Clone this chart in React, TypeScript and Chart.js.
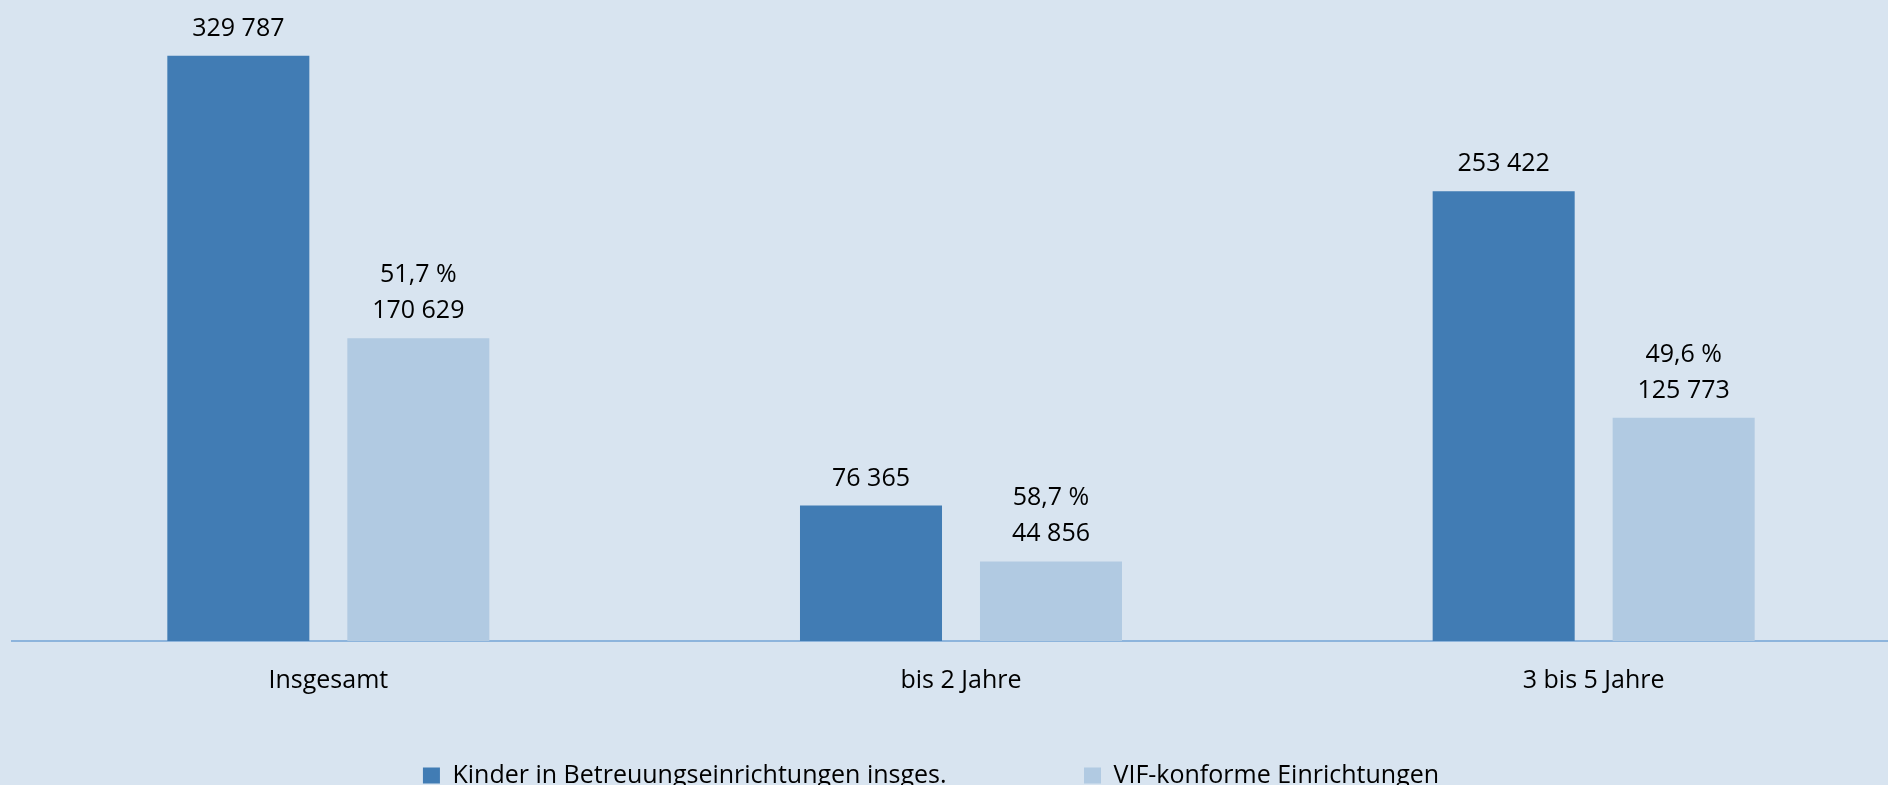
import React, { useEffect, useRef } from "react";
import { Chart, registerables } from "chart.js";

Chart.register(...registerables);

const categories = ["Insgesamt", "bis 2 Jahre", "3 bis 5 Jahre"];
const totalChildren = [329787, 76365, 253422];
const vifChildren = [170629, 44856, 125773];
const vifShare = ["51,7 %", "58,7 %", "49,6 %"];
const seriesNames = ["Kinder in Betreuungseinrichtungen insges.", "VIF-konforme Einrichtungen"];
const yMax = 350000;

const BG = "rgb(216,228,240)";
const DARK = "rgb(65,124,180)";
const LIGHT = "rgb(177,202,226)";
const AXIS = "rgb(141,180,220)";
const FONT = "'Open Sans', sans-serif";
const FS = 25;

function fmt(n: number): string {
  return String(n).replace(/\B(?=(\d{3})+(?!\d))/g, " ");
}

const valueLabels = {
  id: "valueLabels",
  afterDatasetsDraw(chart: any) {
    const ctx = chart.ctx;
    ctx.save();
    ctx.font = `${FS}px ${FONT}`;
    ctx.fillStyle = "#000";
    ctx.textAlign = "center";
    ctx.textBaseline = "alphabetic";
    chart.data.datasets.forEach((ds: any, di: number) => {
      const meta = chart.getDatasetMeta(di);
      meta.data.forEach((bar: any, i: number) => {
        const v = ds.data[i];
        ctx.fillText(fmt(v), bar.x, bar.y - 20);
        if (di === 1) {
          ctx.fillText(vifShare[i], bar.x, bar.y - 56);
        }
      });
    });
    ctx.restore();
  },
};

export default function App() {
  const ref = useRef<HTMLCanvasElement | null>(null);
  useEffect(() => {
    document.body.style.margin = "0";
    document.body.style.overflow = "hidden";
    document.body.style.background = BG;
    const canvas = ref.current!;
    const chart = new Chart(canvas, {
      type: "bar",
      data: {
        labels: categories,
        datasets: [
          {
            label: seriesNames[0],
            data: totalChildren,
            backgroundColor: DARK,
            borderWidth: 0,
            categoryPercentage: 0.569,
            barPercentage: 0.789,
          },
          {
            label: seriesNames[1],
            data: vifChildren,
            backgroundColor: LIGHT,
            borderWidth: 0,
            categoryPercentage: 0.569,
            barPercentage: 0.789,
          },
        ],
      },
      options: {
        responsive: false,
        animation: false,
        layout: { padding: { top: 20, left: 0, right: 0, bottom: 0 } },
        plugins: {
          tooltip: { enabled: false },
          legend: {
            position: "bottom",
            align: "center",
            labels: {
              boxWidth: 17,
              boxHeight: 16,
              padding: 40,
              color: "#000",
              font: { family: FONT, size: FS },
              generateLabels(c: any) {
                const items = Chart.defaults.plugins.legend.labels.generateLabels(c);
                return items.map((it: any, i: number) =>
                  i === 0 ? { ...it, text: it.text + " ".repeat(15), lineWidth: 0 } : { ...it, lineWidth: 0 }
                );
              },
            },
          },
        },
        scales: {
          x: {
            type: "category",
            grid: { display: false, drawTicks: false },
            border: { display: true, color: AXIS, width: 2 },
            ticks: {
              color: "#000",
              font: { family: FONT, size: FS },
              padding: 25,
              maxRotation: 0,
              autoSkip: false,
            },
            afterFit(s: any) {
              s.height = 82;
            },
          },
          y: {
            type: "linear",
            min: 0,
            max: yMax,
            display: true,
            ticks: { display: false },
            grid: { display: false, drawTicks: false },
            border: { display: false },
            afterFit(s: any) {
              s.width = 60;
            },
          },
        },
      },
      plugins: [valueLabels],
    } as any);
    return () => chart.destroy();
  }, []);

  return (
    <div
      style={{
        position: "fixed",
        left: 0,
        top: 0,
        width: 1888,
        height: 785,
        overflow: "hidden",
        background: BG,
      }}
    >
      <canvas
        ref={ref}
        width={1958}
        height={798}
        style={{ position: "absolute", left: -48, top: 0, display: "block" }}
      />
    </div>
  );
}
